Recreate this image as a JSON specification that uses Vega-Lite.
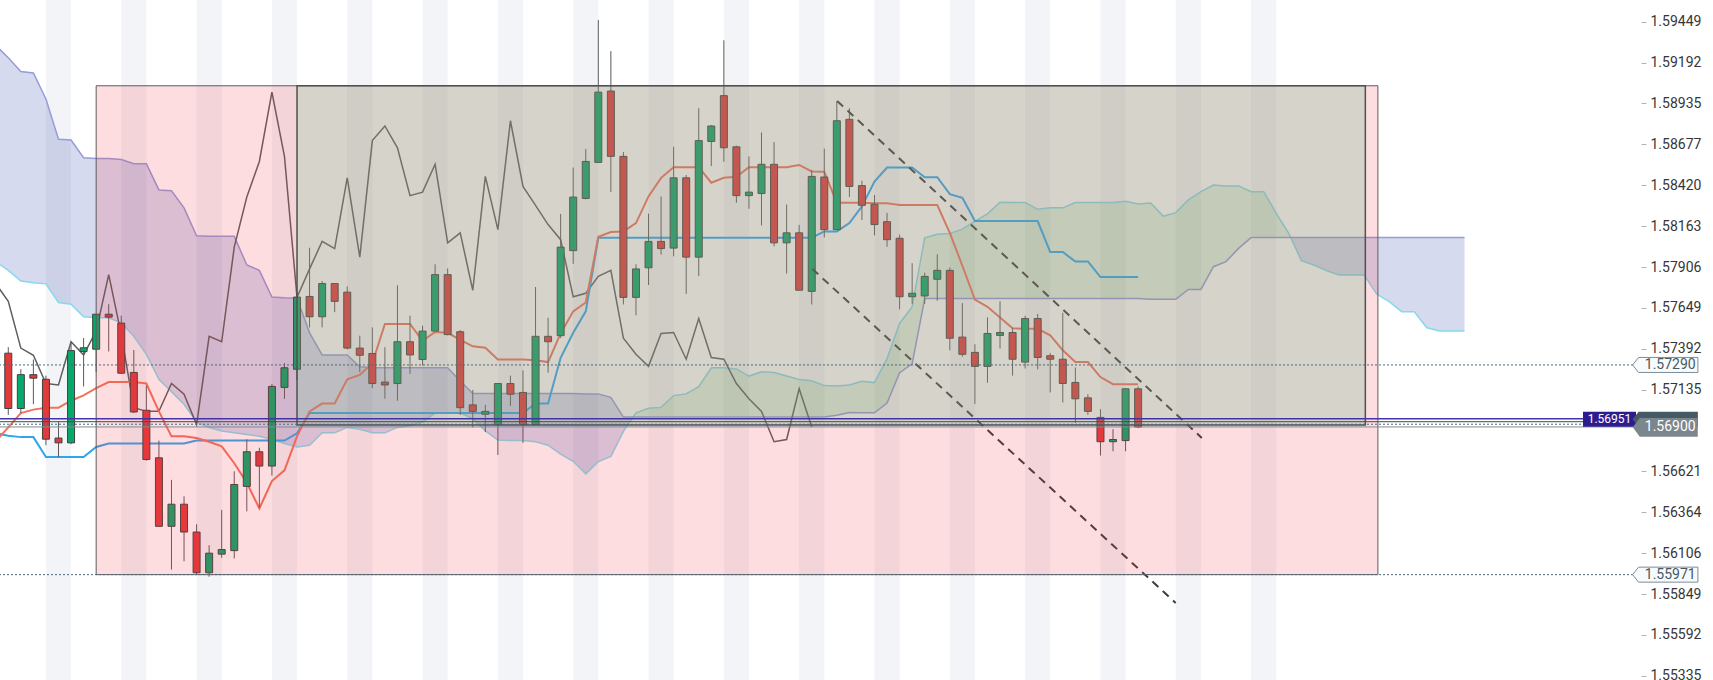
{
  "$schema": "https://vega.github.io/schema/vega-lite/v6.json",
  "width": 1641,
  "height": 680,
  "autosize": {"type": "none"},
  "padding": {"left": 0, "top": 0, "right": 72, "bottom": 0},
  "background": "#ffffff",
  "config": {"view": {"stroke": null}, "font": "Roboto"},
  "datasets": {
    "stripes": [
      {"a": 3, "b": 5}, {"a": 9, "b": 11}, {"a": 15, "b": 17}, {"a": 21, "b": 23},
      {"a": 27, "b": 29}, {"a": 33, "b": 35}, {"a": 39, "b": 41}, {"a": 45, "b": 47},
      {"a": 51, "b": 53}, {"a": 57, "b": 59}, {"a": 63, "b": 65}, {"a": 69, "b": 71},
      {"a": 75, "b": 77}, {"a": 81, "b": 83}, {"a": 87, "b": 89}, {"a": 93, "b": 95},
      {"a": 99, "b": 101}
    ],
    "cloud": [
      {"i": -1, "sa": 1.57940, "sb": 1.59300, "seg": "bear1"},
      {"i": 0, "sa": 1.57885, "sb": 1.59222, "seg": "bear1"},
      {"i": 1, "sa": 1.57818, "sb": 1.59136, "seg": "bear1"},
      {"i": 2, "sa": 1.57807, "sb": 1.59127, "seg": "bear1"},
      {"i": 3, "sa": 1.57800, "sb": 1.58963, "seg": "bear1"},
      {"i": 4, "sa": 1.57683, "sb": 1.58710, "seg": "bear1"},
      {"i": 5, "sa": 1.57672, "sb": 1.58705, "seg": "bear1"},
      {"i": 6, "sa": 1.57593, "sb": 1.58593, "seg": "bear1"},
      {"i": 7, "sa": 1.57587, "sb": 1.58588, "seg": "bear1"},
      {"i": 8, "sa": 1.57587, "sb": 1.58588, "seg": "bear1"},
      {"i": 9, "sa": 1.57555, "sb": 1.58582, "seg": "bear1"},
      {"i": 10, "sa": 1.57470, "sb": 1.58555, "seg": "bear1"},
      {"i": 11, "sa": 1.57357, "sb": 1.58555, "seg": "bear1"},
      {"i": 12, "sa": 1.57200, "sb": 1.58391, "seg": "bear1"},
      {"i": 13, "sa": 1.57122, "sb": 1.58386, "seg": "bear1"},
      {"i": 14, "sa": 1.57043, "sb": 1.58278, "seg": "bear1"},
      {"i": 15, "sa": 1.56931, "sb": 1.58103, "seg": "bear1"},
      {"i": 16, "sa": 1.56897, "sb": 1.58099, "seg": "bear1"},
      {"i": 17, "sa": 1.56875, "sb": 1.58099, "seg": "bear1"},
      {"i": 18, "sa": 1.56863, "sb": 1.58099, "seg": "bear1"},
      {"i": 19, "sa": 1.56852, "sb": 1.57919, "seg": "bear1"},
      {"i": 20, "sa": 1.56841, "sb": 1.57885, "seg": "bear1"},
      {"i": 21, "sa": 1.56823, "sb": 1.57717, "seg": "bear1"},
      {"i": 22, "sa": 1.56796, "sb": 1.57712, "seg": "bear1"},
      {"i": 23, "sa": 1.56774, "sb": 1.57710, "seg": "bear1"},
      {"i": 24, "sa": 1.56785, "sb": 1.57492, "seg": "bear1"},
      {"i": 25, "sa": 1.56863, "sb": 1.57353, "seg": "bear1"},
      {"i": 26, "sa": 1.56863, "sb": 1.57353, "seg": "bear1"},
      {"i": 27, "sa": 1.56897, "sb": 1.57353, "seg": "bear1"},
      {"i": 28, "sa": 1.56886, "sb": 1.57279, "seg": "bear1"},
      {"i": 29, "sa": 1.56863, "sb": 1.57272, "seg": "bear1"},
      {"i": 30, "sa": 1.56863, "sb": 1.57272, "seg": "bear1"},
      {"i": 31, "sa": 1.56897, "sb": 1.57272, "seg": "bear1"},
      {"i": 32, "sa": 1.56908, "sb": 1.57272, "seg": "bear1"},
      {"i": 33, "sa": 1.56931, "sb": 1.57272, "seg": "bear1"},
      {"i": 34, "sa": 1.56987, "sb": 1.57272, "seg": "bear1"},
      {"i": 35, "sa": 1.56987, "sb": 1.57272, "seg": "bear1"},
      {"i": 36, "sa": 1.56987, "sb": 1.57189, "seg": "bear1"},
      {"i": 37, "sa": 1.56953, "sb": 1.57110, "seg": "bear1"},
      {"i": 38, "sa": 1.56875, "sb": 1.57110, "seg": "bear1"},
      {"i": 39, "sa": 1.56818, "sb": 1.57110, "seg": "bear1"},
      {"i": 40, "sa": 1.56814, "sb": 1.57110, "seg": "bear1"},
      {"i": 41, "sa": 1.56814, "sb": 1.57110, "seg": "bear1"},
      {"i": 42, "sa": 1.56807, "sb": 1.57110, "seg": "bear1"},
      {"i": 43, "sa": 1.56785, "sb": 1.57110, "seg": "bear1"},
      {"i": 44, "sa": 1.56729, "sb": 1.57110, "seg": "bear1"},
      {"i": 45, "sa": 1.56684, "sb": 1.57110, "seg": "bear1"},
      {"i": 46, "sa": 1.56605, "sb": 1.57108, "seg": "bear1"},
      {"i": 47, "sa": 1.56682, "sb": 1.57108, "seg": "bear1"},
      {"i": 48, "sa": 1.56715, "sb": 1.57086, "seg": "bear1"},
      {"i": 49, "sa": 1.56872, "sb": 1.56962, "seg": "bear1"},
      {"i": 49.77, "sa": 1.56962, "sb": 1.56962, "seg": "bear1"},
      {"i": 49.77, "sa": 1.56962, "sb": 1.56962, "seg": "bull"},
      {"i": 50, "sa": 1.56989, "sb": 1.56962, "seg": "bull"},
      {"i": 51, "sa": 1.57018, "sb": 1.56962, "seg": "bull"},
      {"i": 52, "sa": 1.57023, "sb": 1.56962, "seg": "bull"},
      {"i": 53, "sa": 1.57097, "sb": 1.56962, "seg": "bull"},
      {"i": 54, "sa": 1.57108, "sb": 1.56962, "seg": "bull"},
      {"i": 55, "sa": 1.57153, "sb": 1.56962, "seg": "bull"},
      {"i": 56, "sa": 1.57272, "sb": 1.56962, "seg": "bull"},
      {"i": 57, "sa": 1.57272, "sb": 1.56962, "seg": "bull"},
      {"i": 58, "sa": 1.57265, "sb": 1.56962, "seg": "bull"},
      {"i": 59, "sa": 1.57220, "sb": 1.56962, "seg": "bull"},
      {"i": 60, "sa": 1.57247, "sb": 1.56962, "seg": "bull"},
      {"i": 61, "sa": 1.57243, "sb": 1.56962, "seg": "bull"},
      {"i": 62, "sa": 1.57220, "sb": 1.56962, "seg": "bull"},
      {"i": 63, "sa": 1.57198, "sb": 1.56962, "seg": "bull"},
      {"i": 64, "sa": 1.57191, "sb": 1.56962, "seg": "bull"},
      {"i": 65, "sa": 1.57160, "sb": 1.56962, "seg": "bull"},
      {"i": 66, "sa": 1.57158, "sb": 1.56973, "seg": "bull"},
      {"i": 67, "sa": 1.57164, "sb": 1.56991, "seg": "bull"},
      {"i": 68, "sa": 1.57187, "sb": 1.56989, "seg": "bull"},
      {"i": 69, "sa": 1.57179, "sb": 1.56989, "seg": "bull"},
      {"i": 70, "sa": 1.57330, "sb": 1.57050, "seg": "bull"},
      {"i": 71, "sa": 1.57551, "sb": 1.57241, "seg": "bull"},
      {"i": 72, "sa": 1.57656, "sb": 1.57297, "seg": "bull"},
      {"i": 73, "sa": 1.58090, "sb": 1.57708, "seg": "bull"},
      {"i": 74, "sa": 1.58112, "sb": 1.57708, "seg": "bull"},
      {"i": 75, "sa": 1.58117, "sb": 1.57708, "seg": "bull"},
      {"i": 76, "sa": 1.58144, "sb": 1.57708, "seg": "bull"},
      {"i": 77, "sa": 1.58195, "sb": 1.57708, "seg": "bull"},
      {"i": 78, "sa": 1.58240, "sb": 1.57708, "seg": "bull"},
      {"i": 79, "sa": 1.58314, "sb": 1.57708, "seg": "bull"},
      {"i": 80, "sa": 1.58312, "sb": 1.57708, "seg": "bull"},
      {"i": 81, "sa": 1.58312, "sb": 1.57708, "seg": "bull"},
      {"i": 82, "sa": 1.58269, "sb": 1.57708, "seg": "bull"},
      {"i": 83, "sa": 1.58278, "sb": 1.57708, "seg": "bull"},
      {"i": 84, "sa": 1.58278, "sb": 1.57708, "seg": "bull"},
      {"i": 85, "sa": 1.58312, "sb": 1.57708, "seg": "bull"},
      {"i": 86, "sa": 1.58312, "sb": 1.57708, "seg": "bull"},
      {"i": 87, "sa": 1.58312, "sb": 1.57708, "seg": "bull"},
      {"i": 88, "sa": 1.58312, "sb": 1.57708, "seg": "bull"},
      {"i": 89, "sa": 1.58319, "sb": 1.57708, "seg": "bull"},
      {"i": 90, "sa": 1.58303, "sb": 1.57708, "seg": "bull"},
      {"i": 91, "sa": 1.58309, "sb": 1.57703, "seg": "bull"},
      {"i": 92, "sa": 1.58226, "sb": 1.57703, "seg": "bull"},
      {"i": 93, "sa": 1.58248, "sb": 1.57703, "seg": "bull"},
      {"i": 94, "sa": 1.58328, "sb": 1.57765, "seg": "bull"},
      {"i": 95, "sa": 1.58380, "sb": 1.57765, "seg": "bull"},
      {"i": 96, "sa": 1.58422, "sb": 1.57908, "seg": "bull"},
      {"i": 97, "sa": 1.58416, "sb": 1.57940, "seg": "bull"},
      {"i": 98, "sa": 1.58416, "sb": 1.58023, "seg": "bull"},
      {"i": 99, "sa": 1.58380, "sb": 1.58091, "seg": "bull"},
      {"i": 100, "sa": 1.58380, "sb": 1.58091, "seg": "bull"},
      {"i": 101, "sa": 1.58244, "sb": 1.58091, "seg": "bull"},
      {"i": 102, "sa": 1.58118, "sb": 1.58091, "seg": "bull"},
      {"i": 102.16, "sa": 1.58091, "sb": 1.58091, "seg": "bull"},
      {"i": 102.16, "sa": 1.58091, "sb": 1.58091, "seg": "bear2"},
      {"i": 103, "sa": 1.57946, "sb": 1.58091, "seg": "bear2"},
      {"i": 104, "sa": 1.57919, "sb": 1.58091, "seg": "bear2"},
      {"i": 105, "sa": 1.57883, "sb": 1.58091, "seg": "bear2"},
      {"i": 106, "sa": 1.57856, "sb": 1.58091, "seg": "bear2"},
      {"i": 107, "sa": 1.57856, "sb": 1.58091, "seg": "bear2"},
      {"i": 108, "sa": 1.57856, "sb": 1.58091, "seg": "bear2"},
      {"i": 109, "sa": 1.57736, "sb": 1.58091, "seg": "bear2"},
      {"i": 110, "sa": 1.57688, "sb": 1.58091, "seg": "bear2"},
      {"i": 111, "sa": 1.57625, "sb": 1.58091, "seg": "bear2"},
      {"i": 112, "sa": 1.57625, "sb": 1.58091, "seg": "bear2"},
      {"i": 113, "sa": 1.57524, "sb": 1.58091, "seg": "bear2"},
      {"i": 114, "sa": 1.57503, "sb": 1.58091, "seg": "bear2"},
      {"i": 115, "sa": 1.57503, "sb": 1.58091, "seg": "bear2"},
      {"i": 116, "sa": 1.57503, "sb": 1.58091, "seg": "bear2"}
    ],
    "candles": [
      {"i": -1, "tk": 1.56810, "kj": 1.56860},
      {"i": 0, "o": 1.57364, "h": 1.57402, "l": 1.56976, "c": 1.57016, "tk": 1.56897, "kj": 1.56845},
      {"i": 1, "o": 1.57016, "h": 1.57263, "l": 1.56987, "c": 1.57229, "tk": 1.56987, "kj": 1.56836},
      {"i": 2, "o": 1.57229, "h": 1.57324, "l": 1.57043, "c": 1.57207, "tk": 1.57009, "kj": 1.56836},
      {"i": 3, "o": 1.57200, "h": 1.57223, "l": 1.56785, "c": 1.56823, "tk": 1.57021, "kj": 1.56711},
      {"i": 4, "o": 1.56830, "h": 1.56931, "l": 1.56711, "c": 1.56800, "tk": 1.57021, "kj": 1.56711},
      {"i": 5, "o": 1.56800, "h": 1.57436, "l": 1.56791, "c": 1.57380, "tk": 1.57065, "kj": 1.56711},
      {"i": 6, "o": 1.57375, "h": 1.57459, "l": 1.57155, "c": 1.57398, "tk": 1.57099, "kj": 1.56711},
      {"i": 7, "o": 1.57389, "h": 1.57609, "l": 1.57245, "c": 1.57609, "tk": 1.57144, "kj": 1.56774},
      {"i": 8, "o": 1.57609, "h": 1.57672, "l": 1.57375, "c": 1.57591, "tk": 1.57182, "kj": 1.56796},
      {"i": 9, "o": 1.57553, "h": 1.57600, "l": 1.57234, "c": 1.57238, "tk": 1.57182, "kj": 1.56796},
      {"i": 10, "o": 1.57243, "h": 1.57384, "l": 1.56987, "c": 1.56994, "tk": 1.57182, "kj": 1.56796},
      {"i": 11, "o": 1.57005, "h": 1.57160, "l": 1.56688, "c": 1.56695, "tk": 1.57173, "kj": 1.56796},
      {"i": 12, "o": 1.56706, "h": 1.56814, "l": 1.56275, "c": 1.56275, "tk": 1.56998, "kj": 1.56796},
      {"i": 13, "o": 1.56275, "h": 1.56567, "l": 1.56003, "c": 1.56414, "tk": 1.56841, "kj": 1.56796},
      {"i": 14, "o": 1.56414, "h": 1.56464, "l": 1.56055, "c": 1.56239, "tk": 1.56841, "kj": 1.56796},
      {"i": 15, "o": 1.56239, "h": 1.56288, "l": 1.55969, "c": 1.55983, "tk": 1.56830, "kj": 1.56814},
      {"i": 16, "o": 1.55983, "h": 1.56156, "l": 1.55958, "c": 1.56106, "tk": 1.56807, "kj": 1.56814},
      {"i": 17, "o": 1.56100, "h": 1.56378, "l": 1.56077, "c": 1.56129, "tk": 1.56778, "kj": 1.56814},
      {"i": 18, "o": 1.56122, "h": 1.56621, "l": 1.56073, "c": 1.56538, "tk": 1.56672, "kj": 1.56814},
      {"i": 19, "o": 1.56526, "h": 1.56823, "l": 1.56369, "c": 1.56744, "tk": 1.56549, "kj": 1.56814},
      {"i": 20, "o": 1.56744, "h": 1.56769, "l": 1.56392, "c": 1.56654, "tk": 1.56387, "kj": 1.56814},
      {"i": 21, "o": 1.56654, "h": 1.57171, "l": 1.56594, "c": 1.57155, "tk": 1.56560, "kj": 1.56814},
      {"i": 22, "o": 1.57149, "h": 1.57301, "l": 1.57077, "c": 1.57272, "tk": 1.56627, "kj": 1.56814},
      {"i": 23, "o": 1.57263, "h": 1.57717, "l": 1.57196, "c": 1.57717, "tk": 1.56841, "kj": 1.56860},
      {"i": 24, "o": 1.57721, "h": 1.58027, "l": 1.57526, "c": 1.57593, "tk": 1.56998, "kj": 1.56987},
      {"i": 25, "o": 1.57593, "h": 1.57818, "l": 1.57526, "c": 1.57802, "tk": 1.57047, "kj": 1.56987},
      {"i": 26, "o": 1.57802, "h": 1.57802, "l": 1.57622, "c": 1.57690, "tk": 1.57047, "kj": 1.56987},
      {"i": 27, "o": 1.57748, "h": 1.57784, "l": 1.57387, "c": 1.57396, "tk": 1.57200, "kj": 1.56987},
      {"i": 28, "o": 1.57396, "h": 1.57474, "l": 1.57245, "c": 1.57351, "tk": 1.57227, "kj": 1.56987},
      {"i": 29, "o": 1.57362, "h": 1.57526, "l": 1.57144, "c": 1.57173, "tk": 1.57301, "kj": 1.56987},
      {"i": 30, "o": 1.57182, "h": 1.57402, "l": 1.57077, "c": 1.57164, "tk": 1.57548, "kj": 1.56987},
      {"i": 31, "o": 1.57173, "h": 1.57791, "l": 1.57065, "c": 1.57436, "tk": 1.57548, "kj": 1.56987},
      {"i": 32, "o": 1.57436, "h": 1.57600, "l": 1.57234, "c": 1.57353, "tk": 1.57548, "kj": 1.56987},
      {"i": 33, "o": 1.57324, "h": 1.57537, "l": 1.57286, "c": 1.57503, "tk": 1.57441, "kj": 1.56987},
      {"i": 34, "o": 1.57503, "h": 1.57923, "l": 1.57503, "c": 1.57858, "tk": 1.57497, "kj": 1.56987},
      {"i": 35, "o": 1.57858, "h": 1.57897, "l": 1.57476, "c": 1.57481, "tk": 1.57492, "kj": 1.56987},
      {"i": 36, "o": 1.57499, "h": 1.57510, "l": 1.56976, "c": 1.57021, "tk": 1.57447, "kj": 1.56987},
      {"i": 37, "o": 1.57039, "h": 1.57133, "l": 1.56897, "c": 1.56998, "tk": 1.57407, "kj": 1.56987},
      {"i": 38, "o": 1.56980, "h": 1.57039, "l": 1.56868, "c": 1.56998, "tk": 1.57398, "kj": 1.56987},
      {"i": 39, "o": 1.56915, "h": 1.57173, "l": 1.56724, "c": 1.57173, "tk": 1.57324, "kj": 1.56987},
      {"i": 40, "o": 1.57173, "h": 1.57223, "l": 1.57032, "c": 1.57106, "tk": 1.57324, "kj": 1.56987},
      {"i": 41, "o": 1.57117, "h": 1.57256, "l": 1.56800, "c": 1.56915, "tk": 1.57324, "kj": 1.56987},
      {"i": 42, "o": 1.56915, "h": 1.57780, "l": 1.56915, "c": 1.57470, "tk": 1.57319, "kj": 1.57047},
      {"i": 43, "o": 1.57470, "h": 1.57587, "l": 1.57241, "c": 1.57436, "tk": 1.57308, "kj": 1.57047},
      {"i": 44, "o": 1.57474, "h": 1.58240, "l": 1.57459, "c": 1.58031, "tk": 1.57488, "kj": 1.57335},
      {"i": 45, "o": 1.58009, "h": 1.58532, "l": 1.57926, "c": 1.58346, "tk": 1.57627, "kj": 1.57492},
      {"i": 46, "o": 1.58337, "h": 1.58649, "l": 1.58332, "c": 1.58570, "tk": 1.57683, "kj": 1.57627},
      {"i": 47, "o": 1.58564, "h": 1.59460, "l": 1.58564, "c": 1.59006, "tk": 1.58096, "kj": 1.58090},
      {"i": 48, "o": 1.59013, "h": 1.59264, "l": 1.58377, "c": 1.58602, "tk": 1.58126, "kj": 1.58090},
      {"i": 49, "o": 1.58602, "h": 1.58629, "l": 1.57670, "c": 1.57715, "tk": 1.58130, "kj": 1.58090},
      {"i": 50, "o": 1.57715, "h": 1.57923, "l": 1.57602, "c": 1.57894, "tk": 1.58182, "kj": 1.58090},
      {"i": 51, "o": 1.57901, "h": 1.58242, "l": 1.57793, "c": 1.58067, "tk": 1.58350, "kj": 1.58090},
      {"i": 52, "o": 1.58067, "h": 1.58350, "l": 1.57984, "c": 1.58022, "tk": 1.58467, "kj": 1.58090},
      {"i": 53, "o": 1.58025, "h": 1.58662, "l": 1.57973, "c": 1.58467, "tk": 1.58534, "kj": 1.58090},
      {"i": 54, "o": 1.58467, "h": 1.58485, "l": 1.57737, "c": 1.57968, "tk": 1.58534, "kj": 1.58090},
      {"i": 55, "o": 1.57968, "h": 1.58905, "l": 1.57849, "c": 1.58701, "tk": 1.58534, "kj": 1.58090},
      {"i": 56, "o": 1.58696, "h": 1.58799, "l": 1.58541, "c": 1.58793, "tk": 1.58436, "kj": 1.58090},
      {"i": 57, "o": 1.58984, "h": 1.59332, "l": 1.58568, "c": 1.58656, "tk": 1.58467, "kj": 1.58090},
      {"i": 58, "o": 1.58662, "h": 1.58669, "l": 1.58310, "c": 1.58355, "tk": 1.58474, "kj": 1.58090},
      {"i": 59, "o": 1.58355, "h": 1.58602, "l": 1.58272, "c": 1.58377, "tk": 1.58534, "kj": 1.58090},
      {"i": 60, "o": 1.58368, "h": 1.58752, "l": 1.58168, "c": 1.58552, "tk": 1.58534, "kj": 1.58090},
      {"i": 61, "o": 1.58552, "h": 1.58692, "l": 1.58036, "c": 1.58058, "tk": 1.58534, "kj": 1.58090},
      {"i": 62, "o": 1.58058, "h": 1.58299, "l": 1.57865, "c": 1.58121, "tk": 1.58534, "kj": 1.58090},
      {"i": 63, "o": 1.58121, "h": 1.58171, "l": 1.57760, "c": 1.57760, "tk": 1.58548, "kj": 1.58090},
      {"i": 64, "o": 1.57753, "h": 1.58516, "l": 1.57670, "c": 1.58476, "tk": 1.58507, "kj": 1.58090},
      {"i": 65, "o": 1.58472, "h": 1.58651, "l": 1.58092, "c": 1.58141, "tk": 1.58505, "kj": 1.58130},
      {"i": 66, "o": 1.58141, "h": 1.58950, "l": 1.58141, "c": 1.58826, "tk": 1.58310, "kj": 1.58130},
      {"i": 67, "o": 1.58835, "h": 1.58905, "l": 1.58346, "c": 1.58413, "tk": 1.58310, "kj": 1.58182},
      {"i": 68, "o": 1.58418, "h": 1.58449, "l": 1.58202, "c": 1.58294, "tk": 1.58310, "kj": 1.58287},
      {"i": 69, "o": 1.58301, "h": 1.58359, "l": 1.58105, "c": 1.58173, "tk": 1.58307, "kj": 1.58443},
      {"i": 70, "o": 1.58191, "h": 1.58247, "l": 1.58033, "c": 1.58078, "tk": 1.58307, "kj": 1.58532},
      {"i": 71, "o": 1.58087, "h": 1.58110, "l": 1.57640, "c": 1.57719, "tk": 1.58296, "kj": 1.58532},
      {"i": 72, "o": 1.57719, "h": 1.57930, "l": 1.57674, "c": 1.57741, "tk": 1.58296, "kj": 1.58532},
      {"i": 73, "o": 1.57724, "h": 1.57870, "l": 1.57674, "c": 1.57847, "tk": 1.58296, "kj": 1.58471},
      {"i": 74, "o": 1.57829, "h": 1.57986, "l": 1.57694, "c": 1.57885, "tk": 1.58296, "kj": 1.58471},
      {"i": 75, "o": 1.57885, "h": 1.57903, "l": 1.57382, "c": 1.57458, "tk": 1.58121, "kj": 1.58364},
      {"i": 76, "o": 1.57465, "h": 1.57679, "l": 1.57342, "c": 1.57357, "tk": 1.57914, "kj": 1.58341},
      {"i": 77, "o": 1.57369, "h": 1.57420, "l": 1.57045, "c": 1.57281, "tk": 1.57701, "kj": 1.58195},
      {"i": 78, "o": 1.57281, "h": 1.57589, "l": 1.57178, "c": 1.57488, "tk": 1.57656, "kj": 1.58195},
      {"i": 79, "o": 1.57476, "h": 1.57690, "l": 1.57393, "c": 1.57494, "tk": 1.57589, "kj": 1.58195},
      {"i": 80, "o": 1.57494, "h": 1.57521, "l": 1.57223, "c": 1.57326, "tk": 1.57521, "kj": 1.58195},
      {"i": 81, "o": 1.57308, "h": 1.57600, "l": 1.57268, "c": 1.57582, "tk": 1.57517, "kj": 1.58195},
      {"i": 82, "o": 1.57582, "h": 1.57611, "l": 1.57263, "c": 1.57337, "tk": 1.57517, "kj": 1.58195},
      {"i": 83, "o": 1.57348, "h": 1.57364, "l": 1.57117, "c": 1.57326, "tk": 1.57476, "kj": 1.58000},
      {"i": 84, "o": 1.57326, "h": 1.57618, "l": 1.57054, "c": 1.57173, "tk": 1.57382, "kj": 1.58000},
      {"i": 85, "o": 1.57180, "h": 1.57274, "l": 1.56926, "c": 1.57077, "tk": 1.57308, "kj": 1.57941},
      {"i": 86, "o": 1.57083, "h": 1.57106, "l": 1.56976, "c": 1.56998, "tk": 1.57308, "kj": 1.57941},
      {"i": 87, "o": 1.56960, "h": 1.57012, "l": 1.56720, "c": 1.56807, "tk": 1.57214, "kj": 1.57843},
      {"i": 88, "o": 1.56807, "h": 1.56886, "l": 1.56747, "c": 1.56821, "tk": 1.57169, "kj": 1.57843},
      {"i": 89, "o": 1.56814, "h": 1.57140, "l": 1.56747, "c": 1.57140, "tk": 1.57169, "kj": 1.57843},
      {"i": 90, "o": 1.57140, "h": 1.57155, "l": 1.56893, "c": 1.56900, "tk": 1.57169, "kj": 1.57843}
    ],
    "chikou": [
      {"i": -1, "ch": 1.57802}, {"i": 0, "ch": 1.57690}, {"i": 1, "ch": 1.57396}, {"i": 2, "ch": 1.57351},
      {"i": 3, "ch": 1.57173}, {"i": 4, "ch": 1.57164}, {"i": 5, "ch": 1.57436}, {"i": 6, "ch": 1.57353},
      {"i": 7, "ch": 1.57503}, {"i": 8, "ch": 1.57858}, {"i": 9, "ch": 1.57481}, {"i": 10, "ch": 1.57021},
      {"i": 11, "ch": 1.56998}, {"i": 12, "ch": 1.56998}, {"i": 13, "ch": 1.57173}, {"i": 14, "ch": 1.57106},
      {"i": 15, "ch": 1.56915}, {"i": 16, "ch": 1.57470}, {"i": 17, "ch": 1.57436}, {"i": 18, "ch": 1.58031},
      {"i": 19, "ch": 1.58346}, {"i": 20, "ch": 1.58570}, {"i": 21, "ch": 1.59006}, {"i": 22, "ch": 1.58602},
      {"i": 23, "ch": 1.57715}, {"i": 24, "ch": 1.57894}, {"i": 25, "ch": 1.58067}, {"i": 26, "ch": 1.58022},
      {"i": 27, "ch": 1.58467}, {"i": 28, "ch": 1.57968}, {"i": 29, "ch": 1.58701}, {"i": 30, "ch": 1.58793},
      {"i": 31, "ch": 1.58656}, {"i": 32, "ch": 1.58355}, {"i": 33, "ch": 1.58377}, {"i": 34, "ch": 1.58552},
      {"i": 35, "ch": 1.58058}, {"i": 36, "ch": 1.58121}, {"i": 37, "ch": 1.57760}, {"i": 38, "ch": 1.58476},
      {"i": 39, "ch": 1.58141}, {"i": 40, "ch": 1.58826}, {"i": 41, "ch": 1.58413}, {"i": 42, "ch": 1.58294},
      {"i": 43, "ch": 1.58173}, {"i": 44, "ch": 1.58078}, {"i": 45, "ch": 1.57719}, {"i": 46, "ch": 1.57741},
      {"i": 47, "ch": 1.57847}, {"i": 48, "ch": 1.57885}, {"i": 49, "ch": 1.57458}, {"i": 50, "ch": 1.57357},
      {"i": 51, "ch": 1.57281}, {"i": 52, "ch": 1.57488}, {"i": 53, "ch": 1.57494}, {"i": 54, "ch": 1.57326},
      {"i": 55, "ch": 1.57582}, {"i": 56, "ch": 1.57337}, {"i": 57, "ch": 1.57326}, {"i": 58, "ch": 1.57173},
      {"i": 59, "ch": 1.57077}, {"i": 60, "ch": 1.56998}, {"i": 61, "ch": 1.56807}, {"i": 62, "ch": 1.56821},
      {"i": 63, "ch": 1.57140}, {"i": 64, "ch": 1.56900}
    ],
    "trend": [
      {"ln": "upper", "i": 66.03, "p": 1.58950},
      {"ln": "upper", "i": 95.07, "p": 1.56831},
      {"ln": "lower", "i": 64.05, "p": 1.57894},
      {"ln": "lower", "i": 92.99, "p": 1.55793}
    ],
    "ticks": [
      {"p": 1.55335}, {"p": 1.55592}, {"p": 1.55849}, {"p": 1.56106}, {"p": 1.56364}, {"p": 1.56621},
      {"p": 1.57135}, {"p": 1.57392}, {"p": 1.57649}, {"p": 1.57906}, {"p": 1.58163}, {"p": 1.5842},
      {"p": 1.58677}, {"p": 1.58935}, {"p": 1.59192}, {"p": 1.59449}
    ]
  },
  "layer": [
    {
      "data": {"name": "stripes"},
      "mark": {"type": "rect", "color": "#f3f4f7"},
      "encoding": {
        "x": {"field": "a", "type": "quantitative", "scale": {"domain": [-0.2613, 129.66], "nice": false, "zero": false}, "axis": null},
        "x2": {"field": "b"}
      }
    },
    {
      "data": {"name": "ticks"},
      "mark": {"type": "rule", "opacity": 0},
      "encoding": {
        "y": {
          "field": "p", "type": "quantitative", "title": null,
          "scale": {"domain": [1.553083, 1.595855], "nice": false, "zero": false},
          "axis": {
            "orient": "right", "title": null, "format": ".5f",
            "values": [1.55335, 1.55592, 1.55849, 1.56106, 1.56364, 1.56621, 1.57135, 1.57392, 1.57649, 1.57906, 1.58163, 1.5842, 1.58677, 1.58935, 1.59192, 1.59449],
            "domain": false, "grid": false, "ticks": true, "tickSize": 5, "tickColor": "#b3b3b3", "tickWidth": 1,
            "labelColor": "#363636", "labelFont": "Roboto", "labelFontSize": 14, "labelPadding": 4,
            "labelOverlap": false
          }
        }
      }
    },
    {
      "data": {"name": "cloud"},
      "mark": {"type": "area", "opacity": 1},
      "encoding": {
        "x": {"field": "i", "type": "quantitative", "scale": {"domain": [-0.2613, 129.66], "nice": false, "zero": false}, "axis": null},
        "y": {"field": "sa", "type": "quantitative", "title": null, "stack": null, "scale": {"domain": [1.553083, 1.595855], "nice": false, "zero": false}},
        "y2": {"field": "sb"},
        "color": {
          "field": "seg", "type": "nominal", "legend": null,
          "scale": {"domain": ["bear1", "bull", "bear2"], "range": ["rgba(63,81,181,0.21)", "rgba(76,175,80,0.17)", "rgba(63,81,181,0.21)"]}
        }
      }
    },
    {
      "data": {"name": "cloud"},
      "mark": {"type": "line", "color": "#86d9e9", "strokeWidth": 1.5},
      "encoding": {
        "x": {"field": "i", "type": "quantitative", "scale": {"domain": [-0.2613, 129.66], "nice": false, "zero": false}, "axis": null},
        "y": {"field": "sa", "type": "quantitative", "title": null, "scale": {"domain": [1.553083, 1.595855], "nice": false, "zero": false}}
      }
    },
    {
      "data": {"name": "cloud"},
      "mark": {"type": "line", "color": "#959cd8", "strokeWidth": 1.5},
      "encoding": {
        "x": {"field": "i", "type": "quantitative", "scale": {"domain": [-0.2613, 129.66], "nice": false, "zero": false}, "axis": null},
        "y": {"field": "sb", "type": "quantitative", "title": null, "scale": {"domain": [1.553083, 1.595855], "nice": false, "zero": false}}
      }
    },
    {
      "data": {"name": "chikou"},
      "mark": {"type": "line", "color": "#5e5e5e", "strokeWidth": 1.5},
      "encoding": {
        "x": {"field": "i", "type": "quantitative", "scale": {"domain": [-0.2613, 129.66], "nice": false, "zero": false}, "axis": null},
        "y": {"field": "ch", "type": "quantitative", "title": null, "scale": {"domain": [1.553083, 1.595855], "nice": false, "zero": false}}
      }
    },
    {
      "data": {"name": "candles"},
      "mark": {"type": "line", "color": "#2ea6ee", "strokeWidth": 2},
      "encoding": {
        "x": {"field": "i", "type": "quantitative", "scale": {"domain": [-0.2613, 129.66], "nice": false, "zero": false}, "axis": null},
        "y": {"field": "kj", "type": "quantitative", "title": null, "scale": {"domain": [1.553083, 1.595855], "nice": false, "zero": false}}
      }
    },
    {
      "data": {"name": "candles"},
      "mark": {"type": "line", "color": "#f2725a", "strokeWidth": 2},
      "encoding": {
        "x": {"field": "i", "type": "quantitative", "scale": {"domain": [-0.2613, 129.66], "nice": false, "zero": false}, "axis": null},
        "y": {"field": "tk", "type": "quantitative", "title": null, "scale": {"domain": [1.553083, 1.595855], "nice": false, "zero": false}}
      }
    },
    {
      "data": {"name": "candles"},
      "mark": {"type": "rule", "color": "#5a5a5a", "strokeWidth": 1},
      "encoding": {
        "x": {"field": "i", "type": "quantitative", "scale": {"domain": [-0.2613, 129.66], "nice": false, "zero": false}, "axis": null},
        "y": {"field": "l", "type": "quantitative", "title": null, "scale": {"domain": [1.553083, 1.595855], "nice": false, "zero": false}},
        "y2": {"field": "h"}
      }
    },
    {
      "data": {"name": "candles"},
      "mark": {"type": "bar", "size": 7, "stroke": "#404040", "strokeWidth": 1},
      "encoding": {
        "x": {"field": "i", "type": "quantitative", "scale": {"domain": [-0.2613, 129.66], "nice": false, "zero": false}, "axis": null},
        "y": {"field": "o", "type": "quantitative", "title": null, "scale": {"domain": [1.553083, 1.595855], "nice": false, "zero": false}},
        "y2": {"field": "c"},
        "fill": {"condition": {"test": "datum.c >= datum.o", "value": "#07a86a"}, "value": "#e2393a"}
      }
    },
    {
      "data": {"name": "trend"},
      "mark": {"type": "line", "color": "#3c3c3c", "strokeWidth": 2, "strokeDash": [8, 6]},
      "encoding": {
        "x": {"field": "i", "type": "quantitative", "scale": {"domain": [-0.2613, 129.66], "nice": false, "zero": false}, "axis": null},
        "y": {"field": "p", "type": "quantitative", "title": null, "scale": {"domain": [1.553083, 1.595855], "nice": false, "zero": false}},
        "detail": {"field": "ln", "type": "nominal"}
      }
    },
    {
      "data": {"values": [{"x1": 7, "x2": 109.1, "top": 1.59046, "bottom": 1.55971}]},
      "mark": {"type": "rect", "fill": "#f23645", "fillOpacity": 0.17, "stroke": "#5c5c5c", "strokeWidth": 1},
      "encoding": {
        "x": {"field": "x1", "type": "quantitative", "scale": {"domain": [-0.2613, 129.66], "nice": false, "zero": false}, "axis": null},
        "x2": {"field": "x2"},
        "y": {"field": "top", "type": "quantitative", "title": null, "scale": {"domain": [1.553083, 1.595855], "nice": false, "zero": false}},
        "y2": {"field": "bottom"}
      }
    },
    {
      "data": {"values": [{"x1": 23, "x2": 108.1, "top": 1.59046, "bottom": 1.56912}]},
      "mark": {"type": "rect", "fill": "#62b78c", "fillOpacity": 0.25, "stroke": "#505050", "strokeWidth": 1.5},
      "encoding": {
        "x": {"field": "x1", "type": "quantitative", "scale": {"domain": [-0.2613, 129.66], "nice": false, "zero": false}, "axis": null},
        "x2": {"field": "x2"},
        "y": {"field": "top", "type": "quantitative", "title": null, "scale": {"domain": [1.553083, 1.595855], "nice": false, "zero": false}},
        "y2": {"field": "bottom"}
      }
    },
    {
      "data": {"values": [{"p": 1.5729}, {"p": 1.55971}, {"p": 1.56917}]},
      "mark": {"type": "rule", "color": "#4f6878", "strokeWidth": 1, "strokeDash": [2, 2]},
      "encoding": {
        "y": {"field": "p", "type": "quantitative", "title": null, "scale": {"domain": [1.553083, 1.595855], "nice": false, "zero": false}}
      }
    },
    {
      "data": {"values": [{"p": 1.569}]},
      "mark": {"type": "rule", "color": "#7d8c93", "strokeWidth": 1},
      "encoding": {
        "y": {"field": "p", "type": "quantitative", "title": null, "scale": {"domain": [1.553083, 1.595855], "nice": false, "zero": false}}
      }
    },
    {
      "data": {"values": [{"p": 1.56933}]},
      "mark": {"type": "rule", "color": "#3b4c55", "strokeWidth": 1},
      "encoding": {
        "y": {"field": "p", "type": "quantitative", "title": null, "scale": {"domain": [1.553083, 1.595855], "nice": false, "zero": false}}
      }
    },
    {
      "data": {"values": [{"p": 1.56951}]},
      "mark": {"type": "rule", "color": "#4334a6", "strokeWidth": 1.5},
      "encoding": {
        "y": {"field": "p", "type": "quantitative", "title": null, "scale": {"domain": [1.553083, 1.595855], "nice": false, "zero": false}}
      }
    },
    {
      "data": {"values": [{"i": 131.99, "p": 1.5729, "t": "1.57290"}, {"i": 131.99, "p": 1.55971, "t": "1.55971"}]},
      "layer": [
        {
          "mark": {"type": "point", "shape": "M -1 0 L -0.816 -0.23 L 1 -0.23 L 1 0.23 L -0.816 0.23 Z", "size": 4264, "filled": true, "fill": "#f9fafb", "stroke": "#7a8d99", "strokeWidth": 1, "opacity": 1}
        },
        {
          "mark": {"type": "text", "color": "#455a64", "fontSize": 14, "font": "Roboto", "align": "center", "baseline": "middle", "dx": 5},
          "encoding": {"text": {"field": "t", "type": "nominal"}}
        }
      ],
      "encoding": {
        "x": {"field": "i", "type": "quantitative", "scale": {"domain": [-0.2613, 129.66], "nice": false, "zero": false}, "axis": null},
        "y": {"field": "p", "type": "quantitative", "title": null, "scale": {"domain": [1.553083, 1.595855], "nice": false, "zero": false}}
      }
    },
    {
      "data": {"values": [{"i": 127.55, "p": 1.569487, "t": "1.56951"}]},
      "layer": [
        {
          "mark": {"type": "point", "shape": "M -1 -0.283 L 1 -0.283 L 1 0.283 L -1 0.283 Z", "size": 2809, "filled": true, "fill": "#2e1c8e", "opacity": 1}
        },
        {
          "mark": {"type": "text", "color": "#ffffff", "fontSize": 12, "font": "Roboto", "align": "center", "baseline": "middle"},
          "encoding": {"text": {"field": "t", "type": "nominal"}}
        }
      ],
      "encoding": {
        "x": {"field": "i", "type": "quantitative", "scale": {"domain": [-0.2613, 129.66], "nice": false, "zero": false}, "axis": null},
        "y": {"field": "p", "type": "quantitative", "title": null, "scale": {"domain": [1.553083, 1.595855], "nice": false, "zero": false}}
      }
    },
    {
      "data": {"values": [{"i": 131.99, "p": 1.569481}]},
      "mark": {"type": "point", "shape": "M -1 0 L -0.816 -0.23 L 1 -0.23 L 1 0.23 L -0.816 0.23 Z", "size": 4264, "filled": true, "fill": "#455a64", "opacity": 1},
      "encoding": {
        "x": {"field": "i", "type": "quantitative", "scale": {"domain": [-0.2613, 129.66], "nice": false, "zero": false}, "axis": null},
        "y": {"field": "p", "type": "quantitative", "title": null, "scale": {"domain": [1.553083, 1.595855], "nice": false, "zero": false}}
      }
    },
    {
      "data": {"values": [{"i": 131.99, "p": 1.568974, "t": "1.56900"}]},
      "layer": [
        {
          "mark": {"type": "point", "shape": "M -1 0 L -0.785 -0.288 L 1 -0.288 L 1 0.288 L -0.785 0.288 Z", "size": 4225, "filled": true, "fill": "#7b878d", "opacity": 1}
        },
        {
          "mark": {"type": "text", "color": "#ffffff", "fontSize": 14, "font": "Roboto", "align": "center", "baseline": "middle", "dx": 5},
          "encoding": {"text": {"field": "t", "type": "nominal"}}
        }
      ],
      "encoding": {
        "x": {"field": "i", "type": "quantitative", "scale": {"domain": [-0.2613, 129.66], "nice": false, "zero": false}, "axis": null},
        "y": {"field": "p", "type": "quantitative", "title": null, "scale": {"domain": [1.553083, 1.595855], "nice": false, "zero": false}}
      }
    }
  ]
}
